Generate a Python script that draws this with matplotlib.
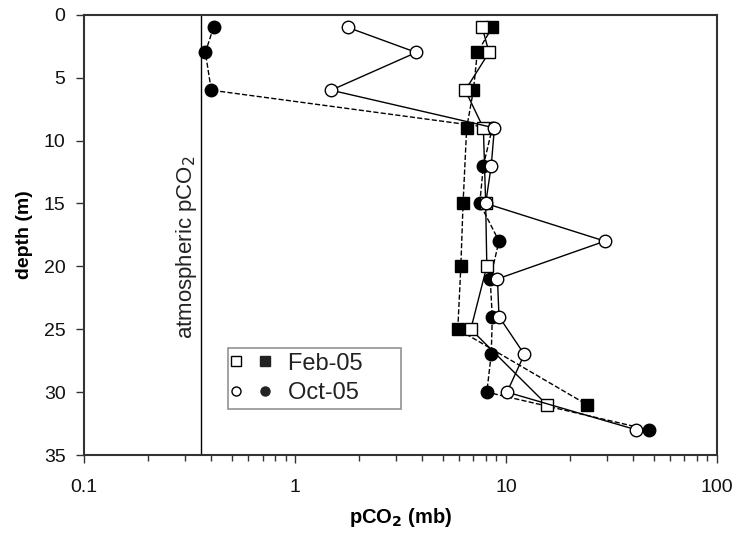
import matplotlib
matplotlib.use("Agg")
import matplotlib.pyplot as plt
from matplotlib.lines import Line2D
from matplotlib.legend_handler import HandlerTuple
from matplotlib.ticker import LogLocator, FixedLocator, FixedFormatter, NullFormatter
from matplotlib.transforms import offset_copy

plt.rcParams["font.family"] = ["Liberation Sans", "DejaVu Sans"]

# Feb-05
feb_depth = [1, 3, 6, 9, 15, 20, 25, 31]
feb_open_pco2 = [7.7, 8.3, 6.4, 7.8, 8.0, 8.1, 6.8, 15.6]
feb_fill_pco2 = [8.6, 7.3, 7.0, 6.5, 6.25, 6.1, 5.9, 24.2]

# Oct-05
oct_depth = [1, 3, 6, 9, 12, 15, 18, 21, 24, 27, 30, 33]
oct_open_pco2 = [1.77, 3.75, 1.48, 8.8, 8.5, 8.0, 29.4, 9.1, 9.25, 12.2, 10.1, 41.5]
oct_fill_pco2 = [0.41, 0.375, 0.40, 8.6, 7.8, 7.5, 9.25, 8.4, 8.6, 8.5, 8.1, 47.7]

atm_pco2 = 0.356

x_ticks = [0.1, 1, 10, 100]
x_labels = ["0.1", "1", "10", "100"]
y_ticks = [0, 5, 10, 15, 20, 25, 30, 35]

fig = plt.figure(figsize=(7.48, 5.35), dpi=100)
ax = fig.add_axes([0.1127, 0.1495, 0.8459, 0.823])

ms = 9
ax.axvline(atm_pco2, color="black", lw=1.0, zorder=1)
ax.plot(feb_fill_pco2, feb_depth, "--", color="black", lw=1.0,
        marker="s", ms=ms, mfc="black", mec="black", zorder=2)
ax.plot(oct_fill_pco2, oct_depth, "--", color="black", lw=1.0,
        marker="o", ms=ms, mfc="black", mec="black", zorder=2)
ax.plot(feb_open_pco2, feb_depth, "-", color="black", lw=1.0,
        marker="s", ms=ms, mfc="white", mec="black", mew=1.0, zorder=3)
ax.plot(oct_open_pco2, oct_depth, "-", color="black", lw=1.0,
        marker="o", ms=ms, mfc="white", mec="black", mew=1.0, zorder=3)

# label sits just left of the atmospheric line
ax.text(atm_pco2, 18.5, "atmospheric pCO$_2$", rotation=90, ha="right", va="center",
        fontsize=16, color="#222222",
        transform=offset_copy(ax.transData, fig=fig, x=-2, y=0, units="dots"))

ax.set_xscale("log")
ax.set_xlim(0.1, 100)
ax.set_ylim(35, 0)
ax.yaxis.set_major_locator(FixedLocator(y_ticks))
ax.xaxis.set_major_locator(FixedLocator(x_ticks))
ax.xaxis.set_major_formatter(FixedFormatter(x_labels))
ax.xaxis.set_minor_locator(LogLocator(base=10, subs=range(2, 10)))
ax.xaxis.set_minor_formatter(NullFormatter())

ax.tick_params(axis="both", which="major", labelsize=14, direction="out",
               length=5.5, width=1.0, color="#333333", labelcolor="#111111")
ax.tick_params(axis="x", which="minor", direction="out", length=4, width=1.0,
               color="#333333")
ax.tick_params(axis="y", pad=8)
ax.tick_params(axis="x", pad=12)
for s in ax.spines.values():
    s.set_linewidth(1.5)
    s.set_color("#333333")

ax.set_xlabel("pCO$_\\mathbf{2}$ (mb)", fontsize=14.5, fontweight="bold", labelpad=7)
ax.set_ylabel("depth (m)", fontsize=14, fontweight="bold", labelpad=8)

h_fo = Line2D([], [], ls="none", marker="s", ms=6.5, mfc="white", mec="black", mew=1.0)
h_ff = Line2D([], [], ls="none", marker="s", ms=6.5, mfc="#222222", mec="#222222")
h_oo = Line2D([], [], ls="none", marker="o", ms=6.5, mfc="white", mec="black", mew=1.0)
h_of = Line2D([], [], ls="none", marker="o", ms=6.5, mfc="#222222", mec="#222222")
leg = ax.legend([(h_fo, h_ff), (h_oo, h_of)], ["Feb-05     ", "Oct-05     "],
                handler_map={tuple: HandlerTuple(ndivide=None, pad=0.95)},
                loc="upper left", bbox_to_anchor=(228 / 748, 1 - 348 / 535),
                bbox_transform=fig.transFigure, borderaxespad=0, fontsize=17,
                frameon=True, fancybox=False, edgecolor="#777777",
                handlelength=1.5, handletextpad=0.85, borderpad=0.2,
                labelspacing=0.3)
leg.get_frame().set_linewidth(1.2)
for t in leg.get_texts():
    t.set_color("#222222")

fig.savefig("out.png", dpi=100)
